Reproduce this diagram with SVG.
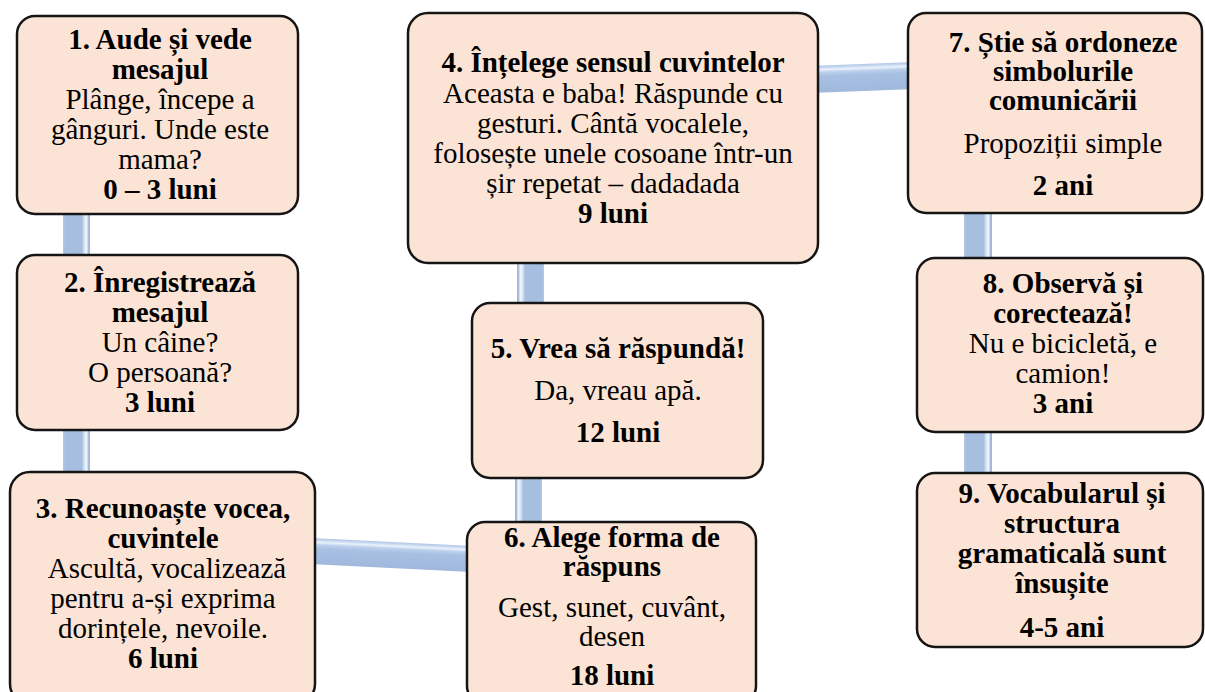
<svg xmlns="http://www.w3.org/2000/svg" width="1205" height="692" viewBox="0 0 1205 692">
<defs>
<style>
.node{fill:#fbe4d5;stroke:#151515;stroke-width:2.5}
text{font-family:"Liberation Serif","Times New Roman",serif;font-size:29px;fill:#000;text-anchor:middle}
.b{font-weight:bold}
</style>
<linearGradient id="gv" x1="0" y1="0" x2="1" y2="0">
<stop offset="0" stop-color="#b4c9e6"/>
<stop offset="0.08" stop-color="#a6bfe1"/>
<stop offset="0.7" stop-color="#a6bfe1"/>
<stop offset="0.8" stop-color="#dde8f7"/>
<stop offset="0.88" stop-color="#f0f5fc"/>
<stop offset="0.95" stop-color="#a3bbdd"/>
<stop offset="1" stop-color="#9cb5da"/>
</linearGradient>
<linearGradient id="gvl" x1="1" y1="0" x2="0" y2="0">
<stop offset="0" stop-color="#b4c9e6"/>
<stop offset="0.08" stop-color="#a6bfe1"/>
<stop offset="0.7" stop-color="#a6bfe1"/>
<stop offset="0.8" stop-color="#dde8f7"/>
<stop offset="0.88" stop-color="#f0f5fc"/>
<stop offset="0.95" stop-color="#a3bbdd"/>
<stop offset="1" stop-color="#9cb5da"/>
</linearGradient>
<linearGradient id="gh" x1="0" y1="1" x2="0" y2="0">
<stop offset="0" stop-color="#9fb8dc"/>
<stop offset="0.6" stop-color="#a8c0e2"/>
<stop offset="0.75" stop-color="#bcd0ec"/>
<stop offset="0.85" stop-color="#eaf2fc"/>
<stop offset="0.93" stop-color="#c6d7ef"/>
<stop offset="1" stop-color="#b0c6e6"/>
</linearGradient>
</defs>
<g id="connectors">
<rect x="63" y="205" width="27" height="60" fill="url(#gv)"/>
<rect x="63" y="420" width="27" height="62" fill="url(#gv)"/>
<rect x="305" y="542" width="172" height="26" fill="url(#gh)" transform="rotate(2.8 391 558)"/>
<rect x="515" y="470" width="27" height="60" fill="url(#gvl)"/>
<rect x="517" y="255" width="27" height="56" fill="url(#gvl)"/>
<rect x="810" y="64" width="105" height="27" fill="url(#gh)" transform="rotate(-2.2 862 77)"/>
<rect x="964" y="205" width="28" height="60" fill="url(#gv)"/>
<rect x="964" y="425" width="28" height="56" fill="url(#gv)"/>
</g>
<g id="node1">
<rect class="node" x="17" y="16" width="281" height="198" rx="18"/>
<text x="160" y="49" class="b">1.  Aude și vede</text>
<text x="160" y="79" class="b">mesajul</text>
<text x="160" y="109">Plânge, începe a</text>
<text x="160" y="139">gânguri. Unde este</text>
<text x="160" y="169">mama?</text>
<text x="160" y="199" class="b">0 – 3 luni</text>
</g>
<g id="node2">
<rect class="node" x="17" y="255" width="281" height="175" rx="18"/>
<text x="160" y="292" class="b">2. Înregistrează</text>
<text x="160" y="322" class="b">mesajul</text>
<text x="160" y="352">Un câine?</text>
<text x="160" y="382">O persoană?</text>
<text x="160" y="412" class="b">3 luni</text>
</g>
<g id="node3">
<rect class="node" x="10" y="472" width="305" height="232" rx="20"/>
<text x="163" y="518" class="b">3. Recunoaște vocea,</text>
<text x="163" y="548" class="b">cuvintele</text>
<text x="167" y="578">Ascultă, vocalizează</text>
<text x="163" y="608">pentru a-și exprima</text>
<text x="163" y="638">dorințele, nevoile.</text>
<text x="163" y="668" class="b">6 luni</text>
</g>
<g id="node4">
<rect class="node" x="408" y="13" width="410" height="250" rx="20"/>
<text x="613" y="72" class="b">4. Înțelege sensul cuvintelor</text>
<text x="613" y="103">Aceasta e baba! Răspunde cu</text>
<text x="613" y="133">gesturi. Cântă vocalele,</text>
<text x="613" y="163">folosește unele cosoane într-un</text>
<text x="613" y="193">șir repetat – dadadada</text>
<text x="613" y="223" class="b">9 luni</text>
</g>
<g id="node5">
<rect class="node" x="472" y="303" width="291" height="175" rx="18"/>
<text x="618" y="358" class="b">5. Vrea să răspundă!</text>
<text x="618" y="400">Da, vreau apă.</text>
<text x="618" y="442" class="b">12 luni</text>
</g>
<g id="node6">
<rect class="node" x="467" y="522" width="289" height="182" rx="18"/>
<text x="612" y="547" class="b">6. Alege forma de</text>
<text x="612" y="576" class="b">răspuns</text>
<text x="612" y="617">Gest, sunet, cuvânt,</text>
<text x="612" y="646">desen</text>
<text x="612" y="685" class="b">18 luni</text>
</g>
<g id="node7">
<rect class="node" x="908" y="13" width="294" height="200" rx="18"/>
<text x="1063" y="52" class="b">7. Știe să ordoneze</text>
<text x="1063" y="81" class="b">simbolurile</text>
<text x="1063" y="110" class="b">comunicării</text>
<text x="1063" y="153">Propoziții simple</text>
<text x="1063" y="195" class="b">2 ani</text>
</g>
<g id="node8">
<rect class="node" x="917" y="258" width="286" height="174" rx="18"/>
<text x="1063" y="293" class="b">8. Observă și</text>
<text x="1063" y="323" class="b">corectează!</text>
<text x="1063" y="353">Nu e bicicletă, e</text>
<text x="1063" y="383">camion!</text>
<text x="1063" y="413" class="b">3 ani</text>
</g>
<g id="node9">
<rect class="node" x="917" y="473" width="286" height="174" rx="18"/>
<text x="1062" y="503" class="b">9. Vocabularul și</text>
<text x="1062" y="533" class="b">structura</text>
<text x="1062" y="563" class="b">gramaticală sunt</text>
<text x="1062" y="593" class="b">însușite</text>
<text x="1062" y="637" class="b">4-5 ani</text>
</g>
</svg>
